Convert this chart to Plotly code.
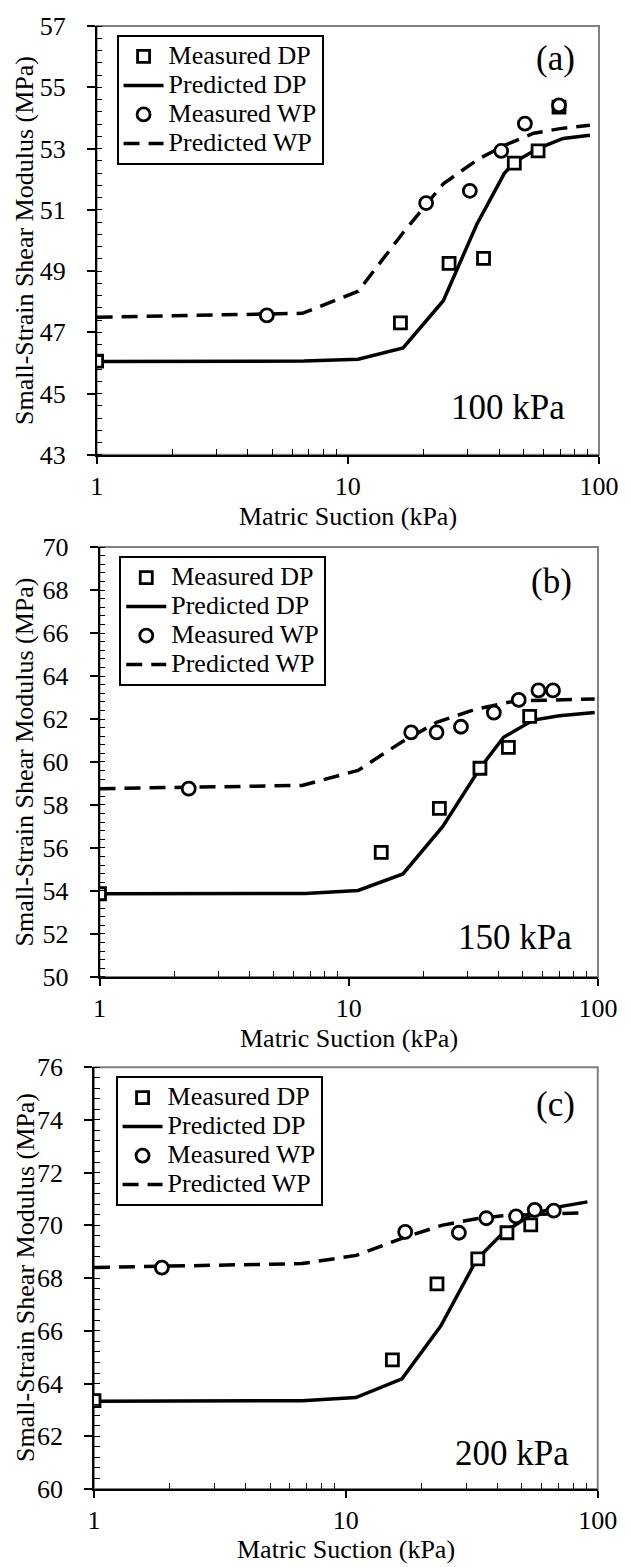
import plotly.graph_objects as go

# ---------------- data ----------------
# Panel (a) 100 kPa
a_meas_dp_x = [1.0, 16.2, 25.3, 34.7, 46.0, 57.2, 69.3]
a_meas_dp_y = [46.06, 47.31, 49.25, 49.41, 52.52, 52.92, 54.35]
a_meas_wp_x = [4.76, 20.5, 30.6, 40.8, 50.7, 69.3]
a_meas_wp_y = [47.55, 51.22, 51.62, 52.92, 53.81, 54.41]
a_pred_dp_x = [1.0, 6.7, 11.0, 16.6, 24.0, 32.6, 42.0, 46.0, 57.0, 72.0, 92.0]
a_pred_dp_y = [46.05, 46.06, 46.12, 46.49, 48.03, 50.52, 52.19, 52.55, 53.00, 53.33, 53.43]
a_pred_wp_x = [1.0, 6.6, 11.0, 16.6, 24.0, 33.0, 42.0, 55.0, 70.0, 92.0]
a_pred_wp_y = [47.49, 47.62, 48.34, 50.25, 51.85, 52.65, 53.10, 53.50, 53.65, 53.76]

# Panel (b) 150 kPa
b_meas_dp_x = [1.0, 13.5, 23.1, 33.6, 43.7, 53.2]
b_meas_dp_y = [53.87, 55.79, 57.84, 59.71, 60.68, 62.12]
b_meas_wp_x = [2.28, 17.8, 22.5, 28.2, 38.2, 48.1, 57.7, 66.0]
b_meas_wp_y = [58.76, 61.38, 61.38, 61.64, 62.30, 62.89, 63.33, 63.33]
b_pred_dp_x = [1.0, 6.7, 10.9, 16.5, 23.8, 33.6, 41.8, 55.0, 70.0, 97.0]
b_pred_dp_y = [53.87, 53.88, 54.02, 54.79, 56.99, 59.71, 61.15, 61.95, 62.15, 62.30]
b_pred_wp_x = [1.0, 6.5, 10.9, 16.2, 22.5, 32.4, 46.5, 70.0, 97.0]
b_pred_wp_y = [58.76, 58.91, 59.61, 60.91, 61.84, 62.46, 62.84, 62.90, 62.93]

# Panel (c) 200 kPa
c_meas_dp_x = [1.0, 15.3, 23.0, 33.4, 43.6, 54.2]
c_meas_dp_y = [63.35, 64.90, 67.78, 68.73, 69.72, 70.02]
c_meas_wp_x = [1.86, 17.2, 28.1, 36.1, 47.4, 56.2, 66.9]
c_meas_wp_y = [68.40, 69.75, 69.72, 70.27, 70.34, 70.59, 70.56]
c_pred_dp_x = [1.0, 6.7, 10.95, 16.7, 23.8, 33.0, 41.8, 54.9, 70.0, 91.0]
c_pred_dp_y = [63.33, 63.35, 63.47, 64.18, 66.18, 68.69, 69.69, 70.43, 70.70, 70.89]
c_pred_wp_x = [1.0, 6.7, 11.0, 16.6, 24.0, 33.0, 42.0, 55.0, 70.0, 91.0]
c_pred_wp_y = [68.40, 68.55, 68.86, 69.50, 70.00, 70.25, 70.36, 70.42, 70.45, 70.47]

panel_labels = ["(a)", "(b)", "(c)"]
pressure_labels = ["100 kPa", "150 kPa", "200 kPa"]
y_ranges = [[43, 57], [50, 70], [60, 76]]
x_tick_vals = [1, 10, 100]
x_title = "Matric Suction (kPa)"
y_title = "Small-Strain Shear Modulus (MPa)"
series_names = ["Measured DP", "Predicted DP", "Measured WP", "Predicted WP"]

panels = [
    (a_meas_dp_x, a_meas_dp_y, a_pred_dp_x, a_pred_dp_y, a_meas_wp_x, a_meas_wp_y, a_pred_wp_x, a_pred_wp_y),
    (b_meas_dp_x, b_meas_dp_y, b_pred_dp_x, b_pred_dp_y, b_meas_wp_x, b_meas_wp_y, b_pred_wp_x, b_pred_wp_y),
    (c_meas_dp_x, c_meas_dp_y, c_pred_dp_x, c_pred_dp_y, c_meas_wp_x, c_meas_wp_y, c_pred_wp_x, c_pred_wp_y),
]

# ---------------- layout geometry ----------------
W, H = 631, 1567
ML, MR, MT, MB = 94, 22, 15, 74
x_domains = [[0.0052, 1.0], [0.0109, 0.998], [0.0, 0.9975]]
y_domains = [[0.7077, 1.0], [0.3518, 0.6448], [0.0027, 0.2903]]
legend_pos = [(0.0447, 0.9939), (0.050, 0.6387), (0.0427, 0.2842)]
label_pos = [(0.913, 0.924), (0.907, 0.919), (0.916, 0.912)]
press_pos = [(0.819, 0.111), (0.834, 0.092), (0.829, 0.085)]
ytitle_shift = [-72, -75, -69]
xtitle_shift = [-62, -62, -60]

FONT = "Liberation Serif, Times New Roman, serif"
LEG_TXT = '<span style="font-size:26px">{}</span>'
fig = go.Figure()

for i, p in enumerate(panels):
    mdx, mdy, pdx, pdy, mwx, mwy, pwx, pwy = p
    xa = "x" if i == 0 else f"x{i+1}"
    ya = "y" if i == 0 else f"y{i+1}"
    lg = "legend" if i == 0 else f"legend{i+1}"
    fig.add_trace(go.Scatter(x=pdx, y=pdy, mode="lines", name=LEG_TXT.format(series_names[1]),
                             line=dict(color="black", width=3.5), xaxis=xa, yaxis=ya,
                             legend=lg, legendrank=2))
    fig.add_trace(go.Scatter(x=pwx, y=pwy, mode="lines", name=LEG_TXT.format(series_names[3]),
                             line=dict(color="black", width=3.5, dash="16px,9px"),
                             xaxis=xa, yaxis=ya, legend=lg, legendrank=4))
    fig.add_trace(go.Scatter(x=mdx, y=mdy, mode="markers", name=LEG_TXT.format(series_names[0]),
                             marker=dict(symbol="square", size=12, color="white",
                                         line=dict(color="black", width=2.8)),
                             xaxis=xa, yaxis=ya, legend=lg, legendrank=1))
    fig.add_trace(go.Scatter(x=mwx, y=mwy, mode="markers", name=LEG_TXT.format(series_names[2]),
                             marker=dict(symbol="circle", size=13, color="white",
                                         line=dict(color="black", width=2.8)),
                             xaxis=xa, yaxis=ya, legend=lg, legendrank=3))

layout = dict(
    width=W, height=H,
    margin=dict(l=ML, r=MR, t=MT, b=MB),
    paper_bgcolor="white", plot_bgcolor="white",
    font=dict(family=FONT, size=26, color="black"),
    showlegend=True,
    annotations=[], shapes=[],
)

for i in range(3):
    xk = "xaxis" if i == 0 else f"xaxis{i+1}"
    yk = "yaxis" if i == 0 else f"yaxis{i+1}"
    ya = "y" if i == 0 else f"y{i+1}"
    xa = "x" if i == 0 else f"x{i+1}"
    lg = "legend" if i == 0 else f"legend{i+1}"
    layout[xk] = dict(
        type="log", range=[0, 2], domain=x_domains[i], anchor=ya,
        tickvals=x_tick_vals, ticktext=[str(v) for v in x_tick_vals],
        ticks="outside", ticklen=7, tickwidth=1.5, tickcolor="black",
        showline=True, linecolor="black", linewidth=1.5, showgrid=False, zeroline=False,
        minor=dict(ticks="inside", ticklen=6, tickwidth=1.2, tickcolor="black",
                   tickvals=[2, 3, 4, 5, 6, 7, 8, 9, 20, 30, 40, 50, 60, 70, 80, 90], showgrid=False),
        tickfont=dict(family=FONT, size=26),
        ticklabelstandoff=0,
    )
    layout[yk] = dict(
        range=y_ranges[i], domain=y_domains[i], anchor=xa,
        dtick=2, tick0=y_ranges[i][0],
        ticks="outside", ticklen=8, tickwidth=1.5, tickcolor="black",
        showline=True, linecolor="black", linewidth=1.5, showgrid=False, zeroline=False,
        minor=dict(ticks="inside", ticklen=6, tickwidth=1.2, tickcolor="black",
                   dtick=0.4, tick0=y_ranges[i][0], showgrid=False),
        tickfont=dict(family=FONT, size=26),
        ticklabelstandoff=16,
    )
    layout[lg] = dict(
        x=legend_pos[i][0], y=legend_pos[i][1], xanchor="left", yanchor="top",
        xref="paper", yref="paper",
        bgcolor="white", bordercolor="black", borderwidth=2,
        font=dict(family=FONT, size=20), itemwidth=40, traceorder="normal",
        tracegroupgap=0,
    )
    layout["shapes"].append(dict(type="rect", xref=f"{xa} domain", yref=f"{ya} domain",
                                 x0=0, x1=1, y0=0, y1=1, layer="below",
                                 line=dict(color="#808080", width=2)))
    layout["annotations"].append(dict(text=panel_labels[i], xref=f"{xa} domain", yref=f"{ya} domain",
                                      x=label_pos[i][0], y=label_pos[i][1], showarrow=False,
                                      xanchor="center", yanchor="middle",
                                      font=dict(family=FONT, size=35)))
    layout["annotations"].append(dict(text=pressure_labels[i], xref=f"{xa} domain", yref=f"{ya} domain",
                                      x=press_pos[i][0], y=press_pos[i][1], showarrow=False,
                                      xanchor="center", yanchor="middle",
                                      font=dict(family=FONT, size=35)))
    # axis titles
    layout["annotations"].append(dict(text=x_title, xref=f"{xa} domain", yref=f"{ya} domain",
                                      x=0.5, y=0, yshift=xtitle_shift[i], showarrow=False,
                                      xanchor="center", yanchor="middle",
                                      font=dict(family=FONT, size=26)))
    layout["annotations"].append(dict(text=y_title, xref=f"{xa} domain", yref=f"{ya} domain",
                                      x=0, y=0.5, xshift=ytitle_shift[i], showarrow=False,
                                      textangle=-90, xanchor="center", yanchor="middle",
                                      font=dict(family=FONT, size=26)))

fig.update_layout(**layout)
fig.write_html("out.html")
